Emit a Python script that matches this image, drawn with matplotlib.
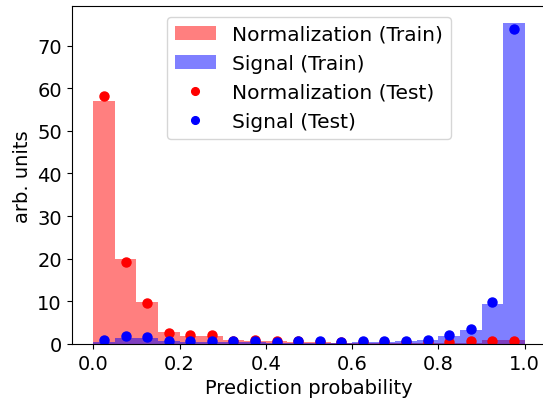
import numpy as np
import matplotlib
matplotlib.use("Agg")
import matplotlib.pyplot as plt

# Histogram bin edges (20 bins over [0, 1])
bin_edges = np.linspace(0.0, 1.0, 21)
bin_centers = 0.5 * (bin_edges[:-1] + bin_edges[1:])

# Training-set histograms (bars)
norm_train = [57.0, 19.9, 9.9, 2.9, 1.8, 1.8, 0.9, 0.8, 0.6, 0.5,
              0.4, 0.3, 0.3, 0.3, 0.3, 0.3, 0.2, 0.3, 1.0, 1.0]
signal_train = [0.5, 1.3, 1.3, 0.6, 0.5, 0.5, 0.4, 0.4, 0.3, 0.3,
                0.3, 0.3, 0.4, 0.5, 0.6, 0.9, 1.9, 3.4, 9.4, 75.4]

# Test-set histograms (points at bin centres)
norm_test = [58.2, 19.3, 9.6, 2.5, 2.2, 2.0, 0.8, 1.0, 0.7, 0.6,
             0.5, 0.4, 0.5, 0.5, 0.5, 0.5, 0.4, 0.6, 0.8, 0.8]
signal_test = [1.0, 1.8, 1.6, 0.8, 0.6, 0.6, 0.7, 0.7, 0.5, 0.6,
               0.6, 0.4, 0.7, 0.6, 0.7, 1.0, 2.0, 3.6, 9.8, 73.8]

fig = plt.figure(figsize=(5.43, 4.02), dpi=100)
ax = fig.add_axes([0.132, 0.1418, 0.874, 0.8396])

width = bin_edges[1] - bin_edges[0]
b1 = ax.bar(bin_edges[:-1], norm_train, width=width, align="edge",
            color="red", alpha=0.5, linewidth=0, label="Normalization (Train)")
b2 = ax.bar(bin_edges[:-1], signal_train, width=width, align="edge",
            color="blue", alpha=0.5, linewidth=0, label="Signal (Train)")
p1, = ax.plot(bin_centers, norm_test, "o", color="red", markersize=6.5,
              label="Normalization (Test)")
p2, = ax.plot(bin_centers, signal_test, "o", color="blue", markersize=6.5,
              label="Signal (Test)")

ymax = max(max(signal_train), max(norm_train), max(signal_test), max(norm_test))
ax.set_xlim(-0.05, 1.05)
ax.set_ylim(0, ymax * 1.05)
ax.set_xticks([0.0, 0.2, 0.4, 0.6, 0.8, 1.0])
ax.set_yticks(range(0, 80, 10))
ax.tick_params(labelsize=14)
ax.set_xlabel("Prediction probability", fontsize=14)
ax.set_ylabel("arb. units", fontsize=14)
ax.legend(handles=[b1, b2, p1, p2], loc="upper center", fontsize=14.5,
          numpoints=1, markerscale=0.85)

fig.savefig("out.png", dpi=100)
